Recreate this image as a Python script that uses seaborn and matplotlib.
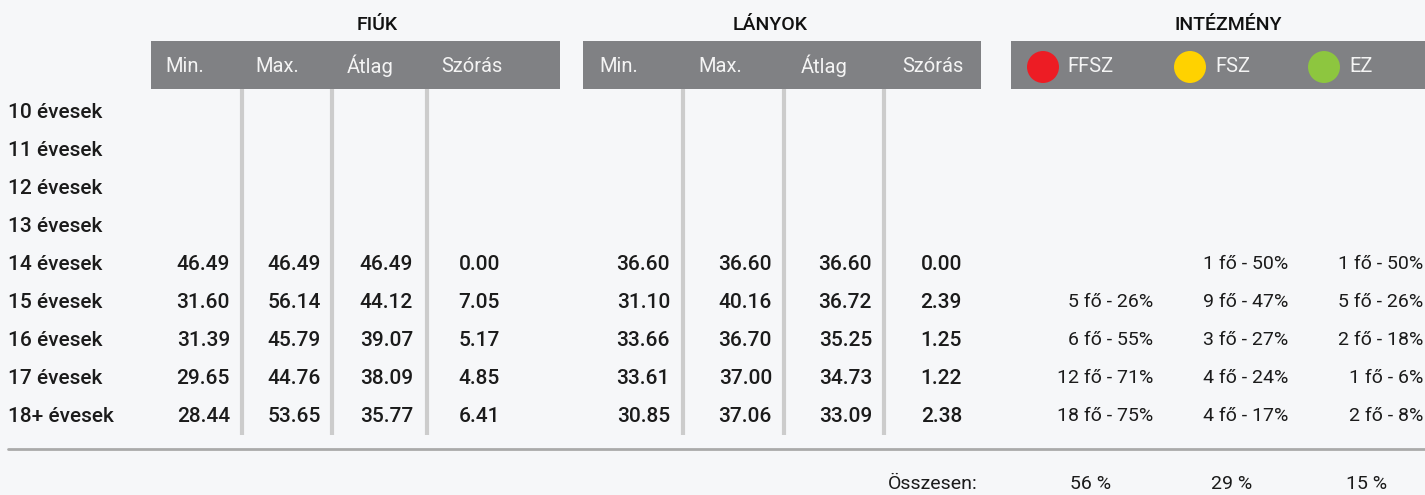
import numpy as np
import matplotlib
matplotlib.use("Agg")
import matplotlib.pyplot as plt
import seaborn as sns
import pandas as pd

# ---------------- data ----------------
age_groups = ["10 évesek", "11 évesek", "12 évesek", "13 évesek", "14 évesek",
              "15 évesek", "16 évesek", "17 évesek", "18+ évesek"]
stat_labels = ["Min.", "Max.", "Átlag", "Szórás"]
group_titles = ["FIÚK", "LÁNYOK", "INTÉZMÉNY"]
cat_labels = ["FFSZ", "FSZ", "EZ"]
cat_colors = ["#ed1c24", "#ffd200", "#8dc63f"]

nan = np.nan
fiuk_min = [nan, nan, nan, nan, 46.49, 31.60, 31.39, 29.65, 28.44]
fiuk_max = [nan, nan, nan, nan, 46.49, 56.14, 45.79, 44.76, 53.65]
fiuk_avg = [nan, nan, nan, nan, 46.49, 44.12, 39.07, 38.09, 35.77]
fiuk_sd = [nan, nan, nan, nan, 0.00, 7.05, 5.17, 4.85, 6.41]

lanyok_min = [nan, nan, nan, nan, 36.60, 31.10, 33.66, 33.61, 30.85]
lanyok_max = [nan, nan, nan, nan, 36.60, 40.16, 36.70, 37.00, 37.06]
lanyok_avg = [nan, nan, nan, nan, 36.60, 36.72, 35.25, 34.73, 33.09]
lanyok_sd = [nan, nan, nan, nan, 0.00, 2.39, 1.25, 1.22, 2.38]

ffsz_n = [None, None, None, None, None, 5, 6, 12, 18]
ffsz_pct = [None, None, None, None, None, 26, 55, 71, 75]
fsz_n = [None, None, None, None, 1, 9, 3, 4, 4]
fsz_pct = [None, None, None, None, 50, 47, 27, 24, 17]
ez_n = [None, None, None, None, 1, 5, 2, 1, 2]
ez_pct = [None, None, None, None, 50, 26, 18, 6, 8]

total_label = "Összesen:"
total_pct = [56, 29, 15]

# ---------------- style ----------------
sns.set_theme(style="white")
plt.rcParams["font.family"] = ["Roboto", "DejaVu Sans"]

BG = "#f6f7f9"
BAR = "#808184"
TXT = "#1b1b1b"
SEP = "#cccccc"

fig = plt.figure(figsize=(14.25, 4.95), dpi=100)
fig.patch.set_facecolor(BG)
ax = fig.add_axes([0, 0, 1, 1])
ax.set_facecolor(BG)
ax.set_xlim(0, 1425)
ax.set_ylim(495, 0)
ax.axis("off")

row_y0, row_dy = 112, 38
rows_y = [row_y0 + i * row_dy for i in range(len(age_groups))]

# group header bars
bars = [(151, 560), (583, 981), (1011, 1425)]
for (x0, x1) in bars:
    ax.add_patch(plt.Rectangle((x0, 41), x1 - x0, 48, color=BAR, lw=0, zorder=1))

title_x = [377, 770, 1228]
for t, x in zip(group_titles, title_x):
    ax.text(x, 25, t, ha="center", va="center", fontsize=14, fontweight="medium",
            color="#111111")

# stat header labels
fiuk_hdr_x = [185, 277, 370, 472]
lany_hdr_x = [619, 720, 824, 933]
for xs in (fiuk_hdr_x, lany_hdr_x):
    for lab, x in zip(stat_labels, xs):
        ax.text(x, 66, lab, ha="center", va="center", fontsize=14.5,
                fontweight="normal", color="#f4f4f4")

# legend circles via seaborn
leg = pd.DataFrame({"x": [1043, 1190, 1324], "y": [67, 67, 67], "cat": cat_labels})
sns.scatterplot(data=leg, x="x", y="y", hue="cat", palette=dict(zip(cat_labels, cat_colors)),
                s=530, linewidth=0, legend=False, ax=ax, zorder=3)
for lab, x in zip(cat_labels, [1067, 1215, 1349]):
    ax.text(x, 67, lab, ha="left", va="center", fontsize=14.5,
            fontweight="normal", color="#f4f4f4")

# vertical separators
for x in [242, 332, 427, 683, 784, 884]:
    ax.plot([x, x], [89, 435], color=SEP, lw=3, solid_capstyle="butt", zorder=1)

# row labels
for lab, y in zip(age_groups, rows_y):
    ax.text(8, y, lab, ha="left", va="center", fontsize=15, fontweight="medium",
            color=TXT)

# numeric columns
fiuk_cols = [fiuk_min, fiuk_max, fiuk_avg, fiuk_sd]
lany_cols = [lanyok_min, lanyok_max, lanyok_avg, lanyok_sd]
fiuk_right = [230, 321, 413, 500]
lany_right = [670, 772, 872, 962]
for cols, rights in ((fiuk_cols, fiuk_right), (lany_cols, lany_right)):
    for col, xr in zip(cols, rights):
        for v, y in zip(col, rows_y):
            if not np.isnan(v):
                ax.text(xr, y, f"{v:.2f}", ha="right", va="center", fontsize=15,
                        fontweight="medium", color=TXT)

# institution columns
inst = [(ffsz_n, ffsz_pct), (fsz_n, fsz_pct), (ez_n, ez_pct)]
inst_right = [1153, 1288, 1423]
for (ns, ps), xr in zip(inst, inst_right):
    for n, p, y in zip(ns, ps, rows_y):
        if n is not None:
            ax.text(xr, y, f"{n} fő - {p}%", ha="right", va="center", fontsize=14,
                    fontweight="normal", color=TXT)

# horizontal rule
ax.plot([8, 1425], [449, 449], color="#aaaaaa", lw=2, zorder=1)

# totals
ax.text(978, 484, total_label, ha="right", va="center", fontsize=14,
        fontweight="normal", color=TXT)
for p, x in zip(total_pct, [1091, 1232, 1367]):
    ax.text(x, 484, f"{p} %", ha="center", va="center", fontsize=14,
            fontweight="normal", color=TXT)

fig.savefig("out.png", dpi=100, facecolor=BG)
